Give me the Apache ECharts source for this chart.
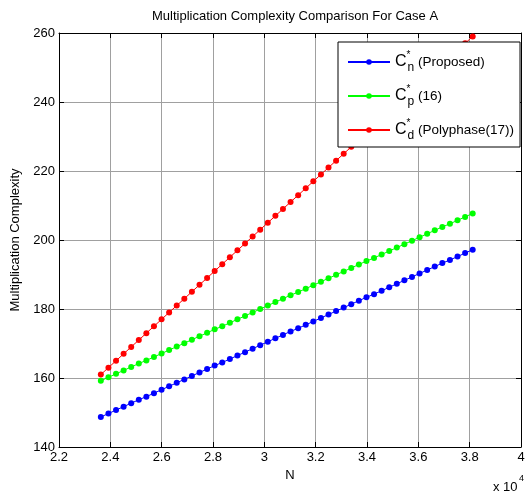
<!DOCTYPE html>
<html>
<head>
<meta charset="utf-8">
<script src="https://cdn.jsdelivr.net/npm/echarts@6/dist/echarts.min.js"></script>
<style>
  html, body { margin: 0; padding: 0; background: #ffffff; }
  #main { width: 529px; height: 497px; }
</style>
</head>
<body>
<div id="main"></div>
<script>
// N values (raw) (x 10^4)
var nValues = [23630, 23926, 24222, 24517, 24813, 25109, 25404, 25700, 25996, 26291,
  26587, 26883, 27178, 27474, 27770, 28065, 28361, 28657, 28952, 29248,
  29544, 29839, 30135, 30431, 30726, 31022, 31318, 31613, 31909, 32205,
  32500, 32796, 33092, 33387, 33683, 33979, 34274, 34570, 34866, 35161,
  35457, 35753, 36048, 36344, 36640, 36935, 37231, 37527, 37822, 38118];

// C_n* (Proposed)
var proposed = [148.7, 149.7, 150.7, 151.7, 152.7, 153.7, 154.6, 155.6, 156.6, 157.6,
  158.6, 159.6, 160.6, 161.6, 162.6, 163.6, 164.5, 165.5, 166.5, 167.5,
  168.5, 169.5, 170.5, 171.5, 172.5, 173.5, 174.4, 175.4, 176.4, 177.4,
  178.4, 179.4, 180.4, 181.4, 182.4, 183.4, 184.3, 185.3, 186.3, 187.3,
  188.3, 189.3, 190.3, 191.3, 192.3, 193.3, 194.2, 195.2, 196.2, 197.2];

// C_p* (16)
var ref16 = [159.2, 160.2, 161.2, 162.2, 163.2, 164.2, 165.1, 166.1, 167.1, 168.1,
  169.1, 170.1, 171.1, 172.1, 173.1, 174.1, 175.0, 176.0, 177.0, 178.0,
  179.0, 180.0, 181.0, 182.0, 183.0, 184.0, 184.9, 185.9, 186.9, 187.9,
  188.9, 189.9, 190.9, 191.9, 192.9, 193.9, 194.8, 195.8, 196.8, 197.8,
  198.8, 199.8, 200.8, 201.8, 202.8, 203.8, 204.7, 205.7, 206.7, 207.7];

// C_d* (Polyphase(17))
var polyphase = [161, 163, 165, 167, 169, 171, 173, 175, 177, 179,
  181, 183, 185, 187, 189, 191, 193, 195, 197, 199,
  201, 203, 205, 207, 209, 211, 213, 215, 217, 219,
  221, 223, 225, 227, 229, 231, 233, 235, 237, 239,
  241, 243, 245, 247, 249, 251, 253, 255, 257, 259];

var seriesNames = ['proposed', 'ref16', 'polyphase'];
var legendLabels = {
  proposed: '{c|C}{sup|*}{sub|n}{t| (Proposed)}',
  ref16: '{c|C}{sup|*}{sub|p}{t| (16)}',
  polyphase: '{c|C}{sup|*}{sub|d}{t| (Polyphase(17))}'
};
var colors = ['#0000ff', '#00ff00', '#ff0000'];

var FONT = 'Liberation Sans, Arial, sans-serif';

function pairs(xs, ys) {
  var out = [];
  for (var i = 0; i < xs.length; i++) out.push([xs[i], ys[i]]);
  return out;
}

function makeSeries(name, ys, color) {
  return {
    name: name,
    type: 'line',
    data: pairs(nValues, ys),
    symbol: 'circle',
    symbolSize: 6,
    showSymbol: true,
    lineStyle: { width: 1, color: color },
    itemStyle: { color: color },
    emphasis: { disabled: true }
  };
}

var chart = echarts.init(document.getElementById('main'), null, { renderer: 'canvas' });

var xTickFmt = function (v) { return String(+(v / 10000).toFixed(1)); };

var option = {
  backgroundColor: '#ffffff',
  animation: false,
  textStyle: { fontFamily: FONT },
  title: {
    text: 'Multiplication Complexity Comparison For Case A',
    left: 290,
    top: 5,
    textAlign: 'center',
    textStyle: { fontFamily: FONT, fontSize: 13, fontWeight: 'normal', color: '#000' }
  },
  grid: { left: 59, right: 8, top: 33, bottom: 50 },
  legend: {
    data: seriesNames,
    orient: 'vertical',
    left: 338,
    top: 42,
    padding: [8, 6, 5, 9],
    itemGap: 10,
    itemWidth: 42,
    itemHeight: 7,
    backgroundColor: '#ffffff',
    borderColor: '#000000',
    borderWidth: 1,
    borderRadius: 0,
    formatter: function (name) { return legendLabels[name]; },
    textStyle: {
      fontFamily: FONT,
      color: '#000',
      rich: {
        c: { fontSize: 16, lineHeight: 24, fontFamily: FONT },
        sup: { fontSize: 10, verticalAlign: 'top', lineHeight: 12, width: 1, fontFamily: FONT },
        sub: { fontSize: 12, verticalAlign: 'bottom', lineHeight: 12, fontFamily: FONT },
        t: { fontSize: 13.5, lineHeight: 24, fontFamily: FONT }
      }
    }
  },
  xAxis: [{
    type: 'value',
    min: 22000,
    max: 40000,
    interval: 2000,
    name: 'N',
    nameLocation: 'middle',
    nameGap: 18,
    nameTextStyle: { fontFamily: FONT, fontSize: 13, color: '#000', verticalAlign: 'top' },
    axisLine: { show: true, onZero: false, lineStyle: { color: '#000', width: 1 } },
    axisTick: { show: true, inside: true, length: 5, lineStyle: { color: '#000' } },
    axisLabel: { formatter: xTickFmt, fontFamily: FONT, fontSize: 13, color: '#000', margin: 4 },
    splitLine: { show: true, lineStyle: { color: '#a0a0a0', width: 1 } }
  }, {
    type: 'value',
    position: 'top',
    min: 22000,
    max: 40000,
    interval: 2000,
    axisLine: { show: true, onZero: false, lineStyle: { color: '#000', width: 1 } },
    axisTick: { show: true, inside: true, length: 5, lineStyle: { color: '#000' } },
    axisLabel: { show: false },
    splitLine: { show: false }
  }],
  yAxis: [{
    type: 'value',
    min: 140,
    max: 260,
    interval: 20,
    name: 'Multiplication Complexity',
    nameLocation: 'middle',
    nameGap: 28,
    nameTextStyle: { fontFamily: FONT, fontSize: 13, color: '#000' },
    axisLine: { show: true, onZero: false, lineStyle: { color: '#000', width: 1 } },
    axisTick: { show: true, inside: true, length: 5, lineStyle: { color: '#000' } },
    axisLabel: { fontFamily: FONT, fontSize: 13, color: '#000', margin: 4 },
    splitLine: { show: true, lineStyle: { color: '#a0a0a0', width: 1 } }
  }, {
    type: 'value',
    position: 'right',
    min: 140,
    max: 260,
    interval: 20,
    axisLine: { show: true, onZero: false, lineStyle: { color: '#000', width: 1 } },
    axisTick: { show: true, inside: true, length: 5, lineStyle: { color: '#000' } },
    axisLabel: { show: false },
    splitLine: { show: false }
  }],
  graphic: [{
    type: 'text',
    left: 493,
    top: 481,
    style: { text: 'x 10', font: '13px ' + FONT, fill: '#000' }
  }, {
    type: 'text',
    left: 519,
    top: 474,
    style: { text: '4', font: '9px ' + FONT, fill: '#000' }
  }],
  series: [
    makeSeries('proposed', proposed, colors[0]),
    makeSeries('ref16', ref16, colors[1]),
    makeSeries('polyphase', polyphase, colors[2])
  ]
};

chart.setOption(option);
</script>
</body>
</html>
